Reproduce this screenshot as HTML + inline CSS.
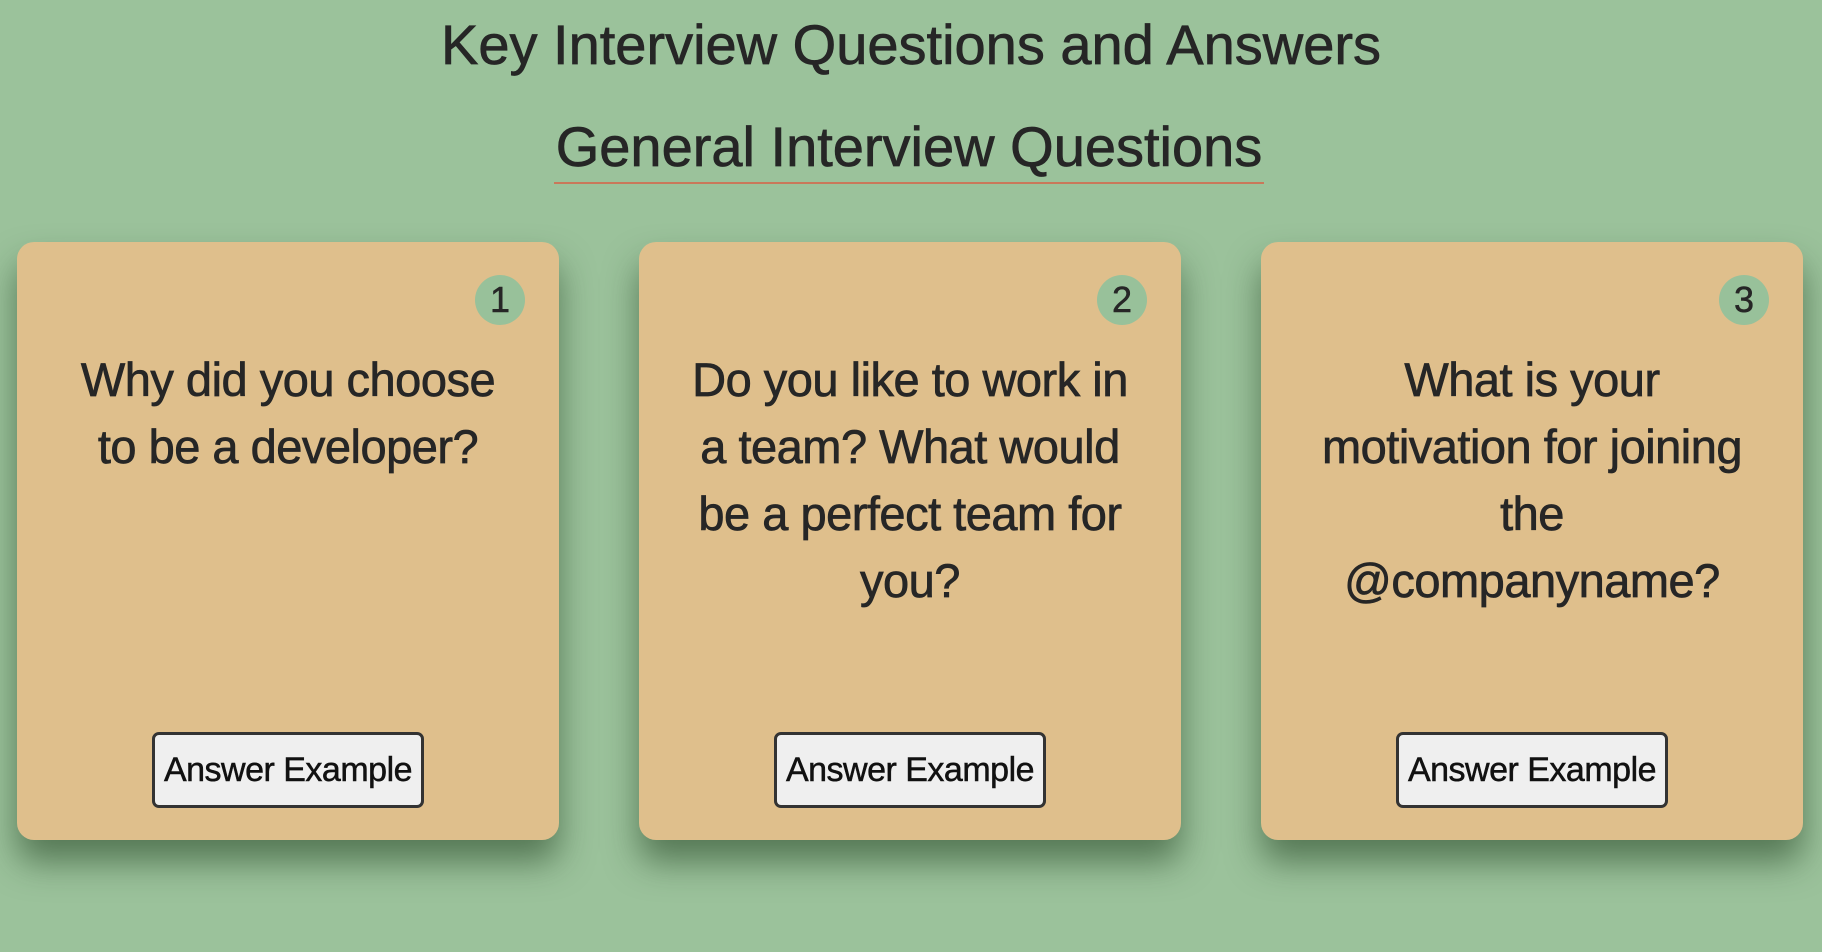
<!DOCTYPE html>
<html><head><meta charset="utf-8">
<style>
html,body{margin:0;padding:0;width:1822px;height:952px;overflow:hidden;background:#9bc29b;font-family:"Liberation Sans",sans-serif;color:#262626}
h1{position:absolute;left:0;width:1822px;top:10px;margin:0;text-align:center;font-weight:normal;font-size:56px;line-height:70px;letter-spacing:0;-webkit-text-stroke:0.7px #262626}
h2{position:absolute;left:554px;width:710px;top:112px;margin:0;text-align:center;font-weight:normal;font-size:56px;line-height:70px;border-bottom:2px solid #c9785a;letter-spacing:0;-webkit-text-stroke:0.7px #262626}
.card{position:absolute;top:242px;width:542px;height:598px;background:#dfbf8c;border-radius:17px;box-shadow:0 22px 34px rgba(30,60,30,0.55)}
.badge{position:absolute;left:458px;top:33px;width:50px;height:50px;border-radius:50%;background:#98c19a;text-align:center;line-height:50px;font-size:36px;-webkit-text-stroke:0.5px #262626}
.q{position:absolute;left:20px;right:20px;top:104px;text-align:center;font-size:47px;line-height:67px;letter-spacing:-0.5px;-webkit-text-stroke:0.7px #262626}
.btn{position:absolute;left:135px;top:490px;width:272px;height:76px;box-sizing:border-box;border:3px solid #333;border-radius:7px;background:#efefef;font-size:34px;line-height:70px;text-align:center;color:#111;letter-spacing:-0.5px;-webkit-text-stroke:0.5px #111}
</style></head><body>
<h1>Key Interview Questions and Answers</h1>
<h2>General Interview Questions</h2>

<div class="card" style="left:17px">
<div class="badge">1</div>
<div class="q">Why did you choose<br>to be a developer?</div>
<div class="btn">Answer Example</div>
</div>

<div class="card" style="left:639px">
<div class="badge">2</div>
<div class="q">Do you like to work in<br>a team? What would<br>be a perfect team for<br>you?</div>
<div class="btn">Answer Example</div>
</div>

<div class="card" style="left:1261px">
<div class="badge">3</div>
<div class="q">What is your<br>motivation for joining<br>the<br>@companyname?</div>
<div class="btn">Answer Example</div>
</div>
</body></html>
